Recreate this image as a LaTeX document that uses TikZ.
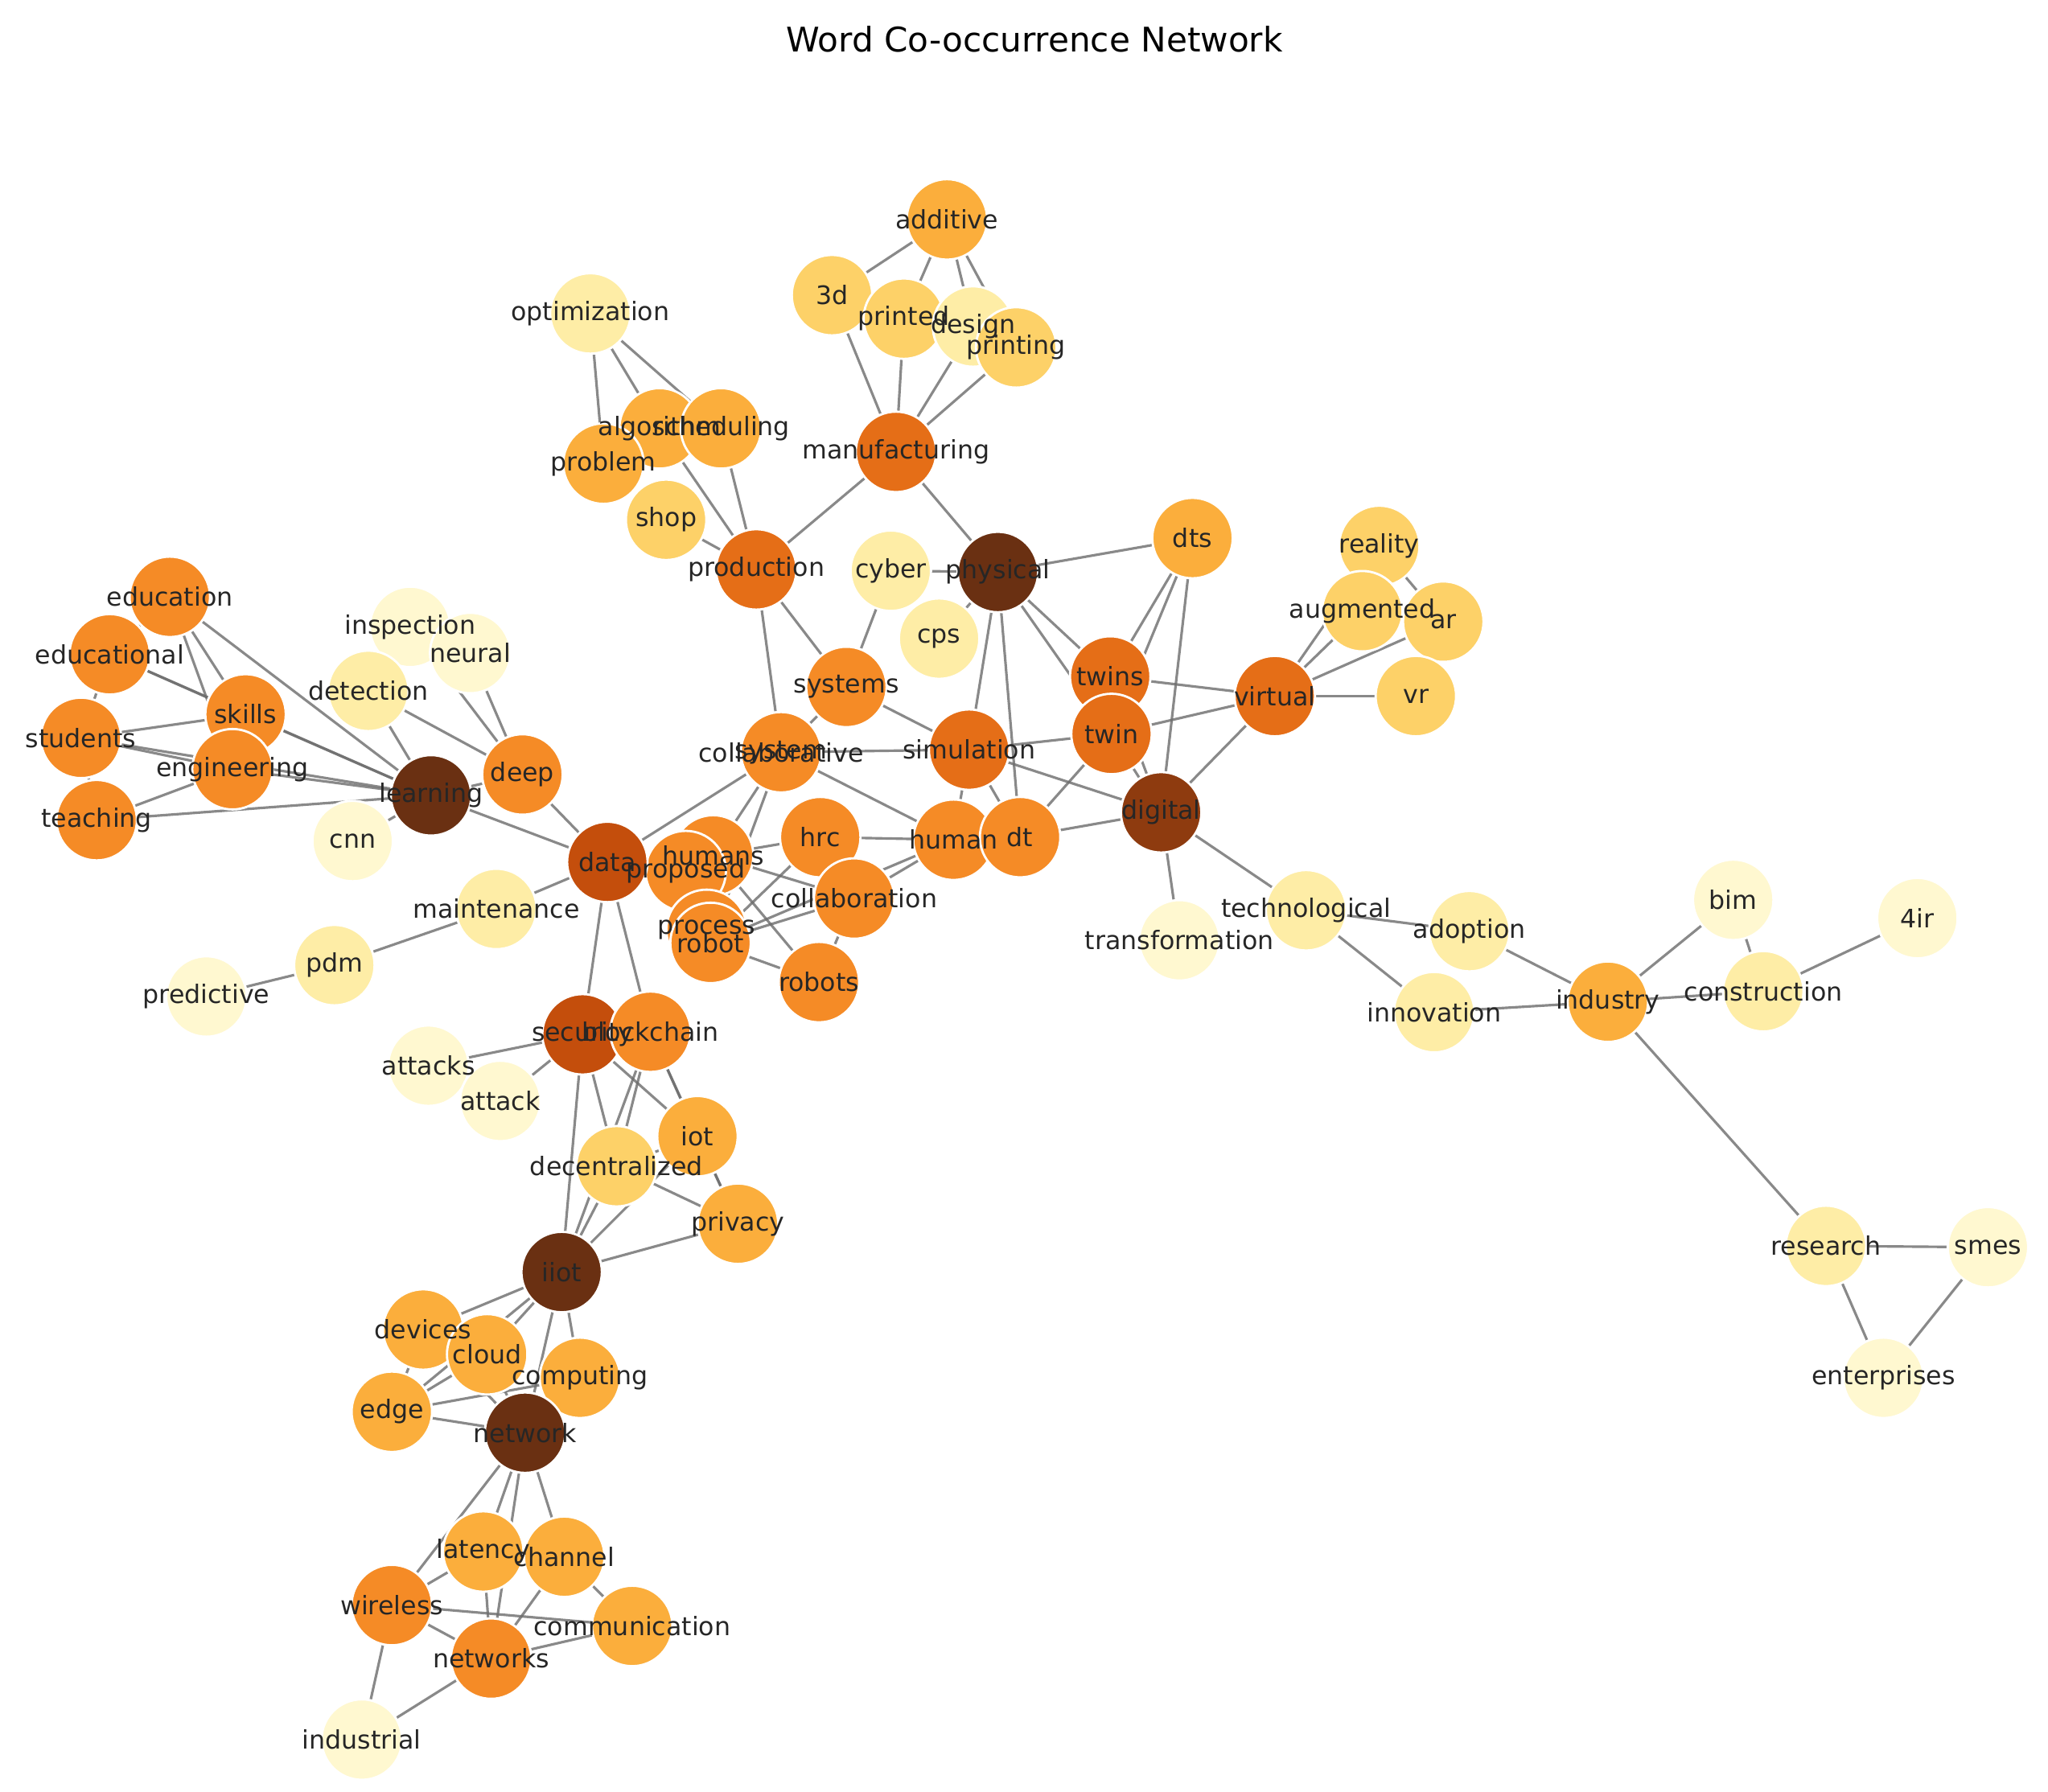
\documentclass[tikz,border=0pt]{standalone}
\usepackage{fontspec}
\setmainfont{DejaVu Sans}
\begin{document}
\definecolor{c0}{HTML}{FFF8D0}
\definecolor{c1}{HTML}{FEEDA6}
\definecolor{c2}{HTML}{FDD168}
\definecolor{c3}{HTML}{FBAE3C}
\definecolor{c4}{HTML}{F58B26}
\definecolor{c5}{HTML}{E56E17}
\definecolor{c6}{HTML}{C44E0C}
\definecolor{c7}{HTML}{8E3B0F}
\definecolor{c8}{HTML}{6A3012}
\begin{tikzpicture}[x=0.01624cm,y=-0.01624cm,
  w/.style={circle,minimum size=1.0cm,inner sep=0pt,draw=white,line width=0.8pt,font=\fontsize{9}{10}\selectfont,text=black!85},
  e/.style={draw=gray!85!black,line width=0.9pt,opacity=0.8}]
\useasboundingbox (0,0) rectangle (1568,1372);
\node[font=\fontsize{12}{14}\selectfont] (title) at (792,30) {Word Co-occurrence Network};
\def\N#1#2#3#4#5{\coordinate (#1) at (#2,#3);}
% coordinates
\foreach \n/\x/\y in {additive/725/168,3d/637/226,printed/692/244,design/745/250,printing/778/266,
optimization/452/240,algorithm/505/328,scheduling/552/328,problem/462/355,shop/510/398,
manufacturing/686/346,production/579/436,cyber/682/437,physical/764/438,cps/719/489,dts/913/412,
reality/1056/418,augmented/1043/468,ar/1105/476,vr/1084/533,virtual/976/533,twins/850/518,twin/851/562,
systems/648/526,collaborative/598/576,system/598/576,simulation/742/574,digital/889/622,human/730/643,dt/781/641,
hrc/628/641,humans/546/655,proposed/525/667,collaboration/654/688,process/541/712,robot/544/722,robots/627/752,
data/465/660,education/130/457,educational/84/501,skills/188/547,students/62/565,engineering/178/589,
teaching/74/628,learning/330/609,inspection/314/480,neural/360/500,detection/282/529,deep/400/593,cnn/270/644,
maintenance/380/696,pdm/256/739,predictive/158/763,security/446/792,blockchain/498/790,attacks/328/816,
attack/383/843,iot/534/870,decentralized/472/893,privacy/565/937,iiot/430/974,devices/324/1018,cloud/373/1037,
computing/444/1055,edge/300/1081,network/402/1097,latency/370/1188,channel/432/1192,wireless/300/1229,
communication/484/1245,networks/376/1270,industrial/277/1332,transformation/903/720,technological/1000/697,
adoption/1125/713,innovation/1098/775,industry/1231/767,bim/1327/689,construction/1350/759,4ir/1468/703,
research/1398/954,smes/1522/955,enterprises/1442/1055}
  {\coordinate (p-\n) at (\x,\y);}
% edges
\foreach \a/\b in {additive/3d,additive/printed,additive/design,additive/printing,3d/manufacturing,printed/manufacturing,
design/manufacturing,printing/manufacturing,optimization/problem,optimization/algorithm,optimization/scheduling,
algorithm/production,scheduling/production,shop/production,manufacturing/production,manufacturing/physical,
production/collaborative,production/systems,physical/dts,physical/twins,physical/twin,physical/simulation,physical/dt,
physical/cyber,cyber/systems,physical/cps,dts/twins,dts/twin,dts/digital,virtual/twins,virtual/twin,virtual/digital,
virtual/augmented,virtual/reality,virtual/ar,virtual/vr,reality/augmented,ar/augmented,reality/ar,twin/simulation,
twin/digital,twin/dt,twins/digital,systems/simulation,systems/collaborative,collaborative/simulation,collaborative/data,
collaborative/humans,collaborative/human,collaborative/robot,simulation/digital,simulation/dt,simulation/human,
digital/dt,digital/technological,digital/transformation,hrc/human,hrc/humans,hrc/robot,human/collaboration,human/robot,
humans/robots,humans/collaboration,robot/robots,robot/collaboration,collaboration/robots,data/learning,data/deep,
data/maintenance,data/security,data/blockchain,education/educational,education/skills,education/learning,
education/engineering,educational/skills,educational/learning,educational/students,skills/students,skills/engineering,
skills/learning,students/engineering,students/learning,students/teaching,engineering/learning,teaching/engineering,
teaching/learning,learning/detection,learning/deep,learning/cnn,inspection/detection,neural/deep,detection/deep,
inspection/deep,maintenance/pdm,pdm/predictive,security/attacks,security/attack,security/iot,security/decentralized,
security/iiot,blockchain/iot,blockchain/decentralized,blockchain/privacy,blockchain/iiot,iot/decentralized,iot/privacy,
decentralized/iiot,decentralized/privacy,iiot/privacy,iot/iiot,iiot/devices,iiot/cloud,iiot/computing,iiot/edge,
iiot/network,devices/edge,devices/network,cloud/edge,cloud/network,computing/network,edge/network,edge/computing,
network/latency,network/channel,network/wireless,network/networks,latency/wireless,latency/networks,latency/channel,
channel/communication,channel/networks,wireless/communication,wireless/networks,wireless/industrial,
networks/communication,networks/industrial,technological/adoption,technological/innovation,adoption/industry,
innovation/industry,industry/bim,industry/construction,bim/construction,construction/4ir,industry/research,
research/smes,research/enterprises,smes/enterprises}
  {\draw[e] (p-\a) -- (p-\b);}
% nodes
\foreach \n/\c in {additive/c3,3d/c2,printed/c2,design/c1,printing/c2,optimization/c1,algorithm/c3,scheduling/c3,
problem/c3,shop/c2,manufacturing/c5,production/c5,cyber/c1,physical/c8,cps/c1,dts/c3,reality/c2,augmented/c2,ar/c2,
vr/c2,virtual/c5,twins/c5,twin/c5,systems/c4,collaborative/c4,system/c4,simulation/c5,digital/c7,human/c4,dt/c4,hrc/c4,
humans/c4,proposed/c4,collaboration/c4,process/c4,robot/c4,robots/c4,data/c6,education/c4,educational/c4,skills/c4,
students/c4,engineering/c4,teaching/c4,learning/c8,inspection/c0,neural/c0,detection/c1,deep/c4,cnn/c0,
maintenance/c1,pdm/c1,predictive/c0,security/c6,blockchain/c4,attacks/c0,attack/c0,iot/c3,decentralized/c2,
privacy/c3,iiot/c8,devices/c3,cloud/c3,computing/c3,edge/c3,network/c8,latency/c3,channel/c3,wireless/c4,
communication/c3,networks/c4,industrial/c0,transformation/c0,technological/c1,adoption/c1,innovation/c1,
industry/c3,bim/c0,construction/c1,4ir/c0,research/c1,smes/c0,enterprises/c0}
  {\node[w,fill=\c] (\n) at (p-\n) {};}
\foreach \n in {additive,3d,printed,design,printing,optimization,algorithm,scheduling,problem,shop,manufacturing,
production,cyber,physical,cps,dts,reality,augmented,ar,vr,virtual,twins,twin,systems,collaborative,system,simulation,
digital,human,dt,hrc,humans,proposed,collaboration,process,robot,robots,data,education,educational,skills,students,
engineering,teaching,learning,inspection,neural,detection,deep,cnn,maintenance,pdm,predictive,security,blockchain,
attacks,attack,iot,decentralized,privacy,iiot,devices,cloud,computing,edge,network,latency,channel,wireless,
communication,networks,industrial,transformation,technological,adoption,innovation,industry,bim,construction,4ir,
research,smes,enterprises}
  {\node[font=\fontsize{9}{10}\selectfont,text=black!85,inner sep=0pt] (l-\n) at (p-\n) {\n};}
\end{tikzpicture}
\end{document}
